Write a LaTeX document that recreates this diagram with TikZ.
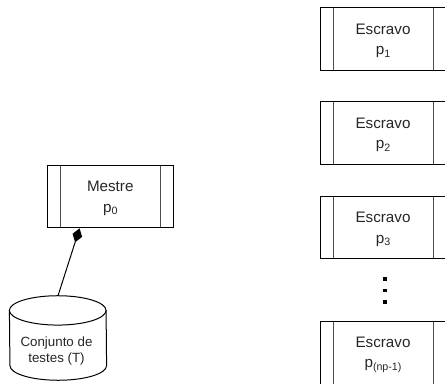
\documentclass[tikz,border=0pt]{standalone}
\usepackage{fontspec}
\setmainfont{Liberation Sans}
\usetikzlibrary{arrows.meta}
\newcommand{\pidx}[1]{p\raisebox{-2pt}{\fontsize{8}{8}\selectfont #1}}
\newcommand{\toppad}{\rule{0pt}{10.6pt}}
\tikzset{
  procbox/.style={draw=black,line width=0.75pt,rectangle,minimum width=94.5pt,minimum height=47pt,inner sep=0pt,
    align=center,font=\fontsize{11.4}{15.4}\selectfont,text=black!85,
    path picture={
      \draw[black!70,line width=0.75pt] ([xshift=9.75pt]path picture bounding box.north west) -- ([xshift=9.75pt]path picture bounding box.south west);
      \draw[black!70,line width=0.75pt] ([xshift=-9.75pt]path picture bounding box.north east) -- ([xshift=-9.75pt]path picture bounding box.south east);
    }},
  dbshape/.style={rectangle,minimum width=72.5pt,minimum height=63pt,inner sep=0pt},
  dblabel/.style={inner sep=0pt,align=center,font=\fontsize{10}{12.4}\selectfont,text=black!85},
  dbline/.style={draw=black,line width=0.75pt},
  dotmark/.style={fill=black,rectangle,minimum size=2.4pt,inner sep=0pt},
  assoc/.style={line width=0.75pt,-{Diamond[length=11pt,width=7.5pt]}}
}
\begin{document}
\begin{tikzpicture}[x=0.75pt,y=-0.75pt]
\useasboundingbox (0,0) rectangle (445,384);
\node[procbox] (m) at (110.25,196.5) {\toppad Mestre\\\pidx{0}};
\node[procbox] (s1) at (383,39) {\toppad Escravo\\\pidx{1}};
\node[procbox] (s2) at (383,133) {\toppad Escravo\\\pidx{2}};
\node[procbox] (s3) at (383,227.5) {\toppad Escravo\\\pidx{3}};
\node[procbox] (s4) at (383,353) {\toppad Escravo\\\pidx{(np-1)}};
\node[dotmark] (d1) at (385,279) {};
\node[dotmark] (d2) at (385,290.5) {};
\node[dotmark] (d3) at (385,302) {};
\node[dbshape] (db) at (58,338) {};
\node[dblabel] (dbt) at (56.5,351) {Conjunto de\\testes (T)};
\draw[dbline] ([yshift=-11pt]db.north west)
  arc[start angle=180,end angle=0,x radius=36.25pt,y radius=11pt]
  -- ([yshift=11pt]db.south east)
  arc[start angle=0,end angle=-180,x radius=36.25pt,y radius=11pt]
  -- cycle;
\draw[dbline] ([yshift=-11pt]db.north west)
  arc[start angle=180,end angle=360,x radius=36.25pt,y radius=11pt];
\draw[assoc] (db.north) -- ([xshift=-23pt]m.south);
\end{tikzpicture}
\end{document}
